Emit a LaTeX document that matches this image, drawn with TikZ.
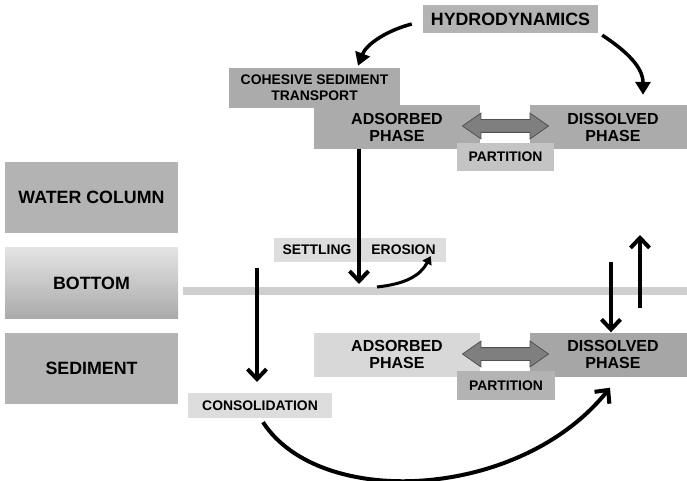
\documentclass[tikz,border=0pt]{standalone}
\usepackage{fontspec}
\setmainfont{Liberation Sans}
\usetikzlibrary{positioning, arrows.meta, shapes.arrows}

\definecolor{layergray}{HTML}{B3B3B3}
\definecolor{darkbox}{HTML}{ABABAB}
\definecolor{midbox}{HTML}{C4C4C4}
\definecolor{lightbox}{HTML}{DDDDDD}
\definecolor{paleads}{HTML}{D8D8D8}
\definecolor{deepdis}{HTML}{A6A6A6}
\definecolor{arrowfill}{HTML}{7F7F7F}
\definecolor{arrowline}{HTML}{505050}
\definecolor{bedgray}{HTML}{CFCFCF}

\begin{document}
\begin{tikzpicture}
	[x=1pt, y=-1pt, on grid, node distance=85.5pt,
	 bigfont/.style={font=\bfseries\fontsize{17.8}{20}\selectfont},
	 layer/.style={bigfont, fill=layergray, inner sep=0pt, minimum width=173pt, minimum height=71pt},
	 phase/.style={font=\bfseries\fontsize{16}{17}\selectfont, align=center, inner sep=0pt,
	               minimum width=166pt, minimum height=44pt},
	 tag/.style={font=\bfseries\fontsize{13.9}{16}\selectfont, align=center, inner sep=0pt},
	 swap/.style={double arrow, fill=arrowfill, draw=arrowline, line width=0.8pt,
	              inner xsep=0pt, inner ysep=6pt,
	              minimum height=86pt, minimum width=25pt, double arrow head extend=6.5pt,
	              double arrow tip angle=70},
	 flow/.style={line width=4pt, -{Straight Barb[length=10pt,width=19pt]}},
	 curl/.style={line width=3.5pt, -{Triangle[length=13pt,width=15pt]}},
	 small/.style={line width=3pt, -{Triangle[length=8pt,width=10pt]}}]
   \useasboundingbox (0,0) rectangle (687,481);

   \node[layer] (wc) at (91.5,197.5) {WATER COLUMN};
   \node[layer, top color=lightbox!80!white, bottom color=layergray!95!black] (bottom) [below=of wc] {BOTTOM};
   \node[layer] (sed) [below=of bottom] {SEDIMENT};

   \fill[bedgray] (183,287) rectangle (690,295);

   \node[bigfont, fill=layergray, inner sep=0pt, minimum width=175pt, minimum height=28pt] (hydro) at (510.5,19) {HYDRODYNAMICS};
   \node[tag, fill=darkbox, minimum width=171pt, minimum height=40pt] (cst) at (314.5,88) {COHESIVE SEDIMENT\\TRANSPORT};

   \node[phase, fill=darkbox] (ads_w) at (397,127) {ADSORBED\\PHASE};
   \node[phase, fill=darkbox] (dis_w) at (613,127) {DISSOLVED\\PHASE};
   \node[tag, fill=midbox, minimum width=97pt, minimum height=28pt] (part_w) at (505.5,157) {PARTITION};
   \node[swap] (swap_w) at (505.5,126) {};

   \node[phase, fill=paleads] (ads_s) at (397,354.5) {ADSORBED\\PHASE};
   \node[phase, fill=deepdis] (dis_s) at (613,354.5) {DISSOLVED\\PHASE};
   \node[tag, fill=layergray, minimum width=98pt, minimum height=29pt] (part_s) at (506,385.5) {PARTITION};
   \node[swap] (swap_s) at (505.5,354) {};

   \node[tag, fill=lightbox, minimum width=172pt, minimum height=24pt] (se) at (360,250) {};
   \node[tag] (settling) at (317,250) {SETTLING};
   \node[tag] (erosion) at (403.5,250) {EROSION};
   \node[tag, fill=lightbox, minimum width=144pt, minimum height=25pt] (cons) at (260,405.5) {CONSOLIDATION};

   \coordinate (settle_tip) at (359,284);
   \coordinate (ero_foot) at (377,287);
   \coordinate (cons_top) at (257,268);
   \coordinate (cons_tip) at (257,382);
   \coordinate (dis_in) at (611,262);
   \coordinate (dis_out) at (640,308);
   \coordinate (dis_top) at (640,235);

   \draw[curl] ([xshift=-11pt,yshift=-5pt]hydro.west) .. controls (385,31) and (366,45) .. ([xshift=43.5pt,yshift=2pt]cst.north);
   \draw[curl] ([xshift=4pt,yshift=-2pt]hydro.south east) .. controls (628,52) and (643,68) .. ([xshift=30pt,yshift=10pt]dis_w.north);
   \draw[flow] (ads_w.south -| settle_tip) -- (settle_tip);
   \draw[small] (ero_foot) .. controls (405,284) and (420,276) .. ([xshift=-5pt,yshift=-1pt]erosion.south east);
   \draw[flow] (cons_top) -- (cons_tip);
   \draw[flow] (dis_in) -- (dis_in |- dis_s.north);
   \draw[flow] (dis_out) -- (dis_top);
   \draw[flow] ([xshift=3pt,yshift=-4pt]cons.south) .. controls (320,510) and (520,500) .. ([xshift=-3pt,yshift=-11pt]dis_s.south);
\end{tikzpicture}
\end{document}
